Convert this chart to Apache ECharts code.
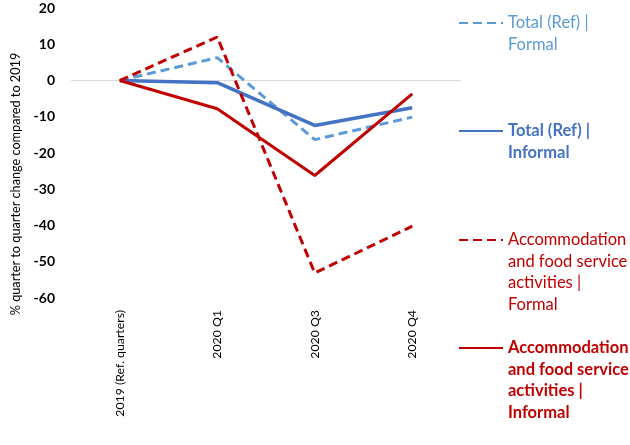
<!DOCTYPE html>
<html>
<head>
<meta charset="utf-8">
<script src="https://cdn.jsdelivr.net/npm/echarts@6/dist/echarts.min.js"></script>
<style>
  html, body { margin: 0; padding: 0; background: #fff; }
  #chart { width: 630px; height: 445px; }
</style>
</head>
<body>
<div id="chart"></div>
<script>
// categories along the x axis
var quarters = ['2019 (Ref. quarters)', '2020 Q1', '2020 Q3', '2020 Q4'];

// % change vs 2019
var totalFormal = [0, 6.3, -16.3, -10.1];
var totalInformal = [0, -0.6, -12.4, -7.5];
var accomFormal = [0, 12.0, -53.1, -40.2];
var accomInformal = [0, -7.8, -26.2, -3.7];

var yTicks = [20, 10, 0, -10, -20, -30, -40, -50, -60];
var yTitle = '% quarter to quarter change compared to 2019';

var names = [
    'Total (Ref) |\nFormal',
    'Total (Ref) |\nInformal',
    'Accommodation\nand food service\nactivities |\nFormal',
    'Accommodation\nand food service\nactivities |\nInformal'
];

var font = 'Lato';
var lh = 21.5;
var lightBlue = '#5B9BD5', blue = '#4472C4', red = '#C00000';

// one legend per entry so each can sit at its own height;
// blank lines are put in front so the first text line lines up with the icon
function legendFor(name, iconY, color, bold) {
    var lines = name.split('\n').length;
    var blanks = new Array(lines).join(' \n');
    return {
        data: [name],
        left: 458,
        top: iconY - (2 * lines - 1) * lh / 2,
        orient: 'vertical',
        padding: 0,
        itemWidth: 44,
        itemHeight: 4,
        itemGap: 5,
        selectedMode: false,
        itemStyle: { opacity: 0 },
        formatter: function (n) { return blanks + n; },
        textStyle: {
            color: color,
            fontFamily: font,
            fontSize: 16.5,
            fontWeight: bold ? 'bold' : 'normal',
            lineHeight: lh
        }
    };
}

var chart = echarts.init(document.getElementById('chart'));

chart.setOption({
    animation: false,
    grid: { left: 71, right: 169, top: 8, bottom: 147 },
    legend: [
        legendFor(names[0], 23, lightBlue, false),
        legendFor(names[1], 131, blue, true),
        legendFor(names[2], 240, red, false),
        legendFor(names[3], 348, red, true)
    ],
    graphic: [{
        type: 'text',
        x: 16,
        y: 184,
        rotation: Math.PI / 2,
        style: {
            text: yTitle,
            fill: '#000',
            font: '12.7px ' + font,
            align: 'center',
            verticalAlign: 'middle'
        }
    }],
    xAxis: {
        type: 'category',
        data: quarters,
        boundaryGap: true,
        axisLine: { show: false },
        axisTick: { show: false },
        axisLabel: {
            rotate: 90,
            margin: 12,
            interval: 0,
            color: '#000',
            fontFamily: font,
            fontSize: 12.3
        }
    },
    yAxis: {
        type: 'value',
        min: -60,
        max: 20,
        interval: 10,
        axisLine: { show: false },
        axisTick: { show: false },
        splitLine: { show: false },
        axisLabel: {
            margin: 16,
            color: '#000',
            fontFamily: font,
            fontSize: 14,
            fontWeight: 'bold',
            formatter: function (v) { return yTicks.indexOf(v) >= 0 ? String(v) : ''; }
        }
    },
    series: [
        {
            name: names[0],
            type: 'line',
            data: totalFormal,
            symbol: 'none',
            z: 2,
            lineStyle: { color: lightBlue, width: 3, type: [9, 5] },
            itemStyle: { color: lightBlue },
            markLine: {
                silent: true,
                symbol: 'none',
                label: { show: false },
                lineStyle: { color: '#D9D9D9', width: 1, type: 'solid' },
                data: [{ yAxis: 0 }],
                z: 1
            }
        },
        {
            name: names[1],
            type: 'line',
            data: totalInformal,
            symbol: 'none',
            z: 3,
            lineStyle: { color: blue, width: 3.5, type: 'solid' },
            itemStyle: { color: blue }
        },
        {
            name: names[2],
            type: 'line',
            data: accomFormal,
            symbol: 'none',
            z: 4,
            lineStyle: { color: red, width: 3, type: [9, 5] },
            itemStyle: { color: red }
        },
        {
            name: names[3],
            type: 'line',
            data: accomInformal,
            symbol: 'none',
            z: 5,
            lineStyle: { color: red, width: 3, type: 'solid' },
            itemStyle: { color: red }
        }
    ]
});
</script>
</body>
</html>
